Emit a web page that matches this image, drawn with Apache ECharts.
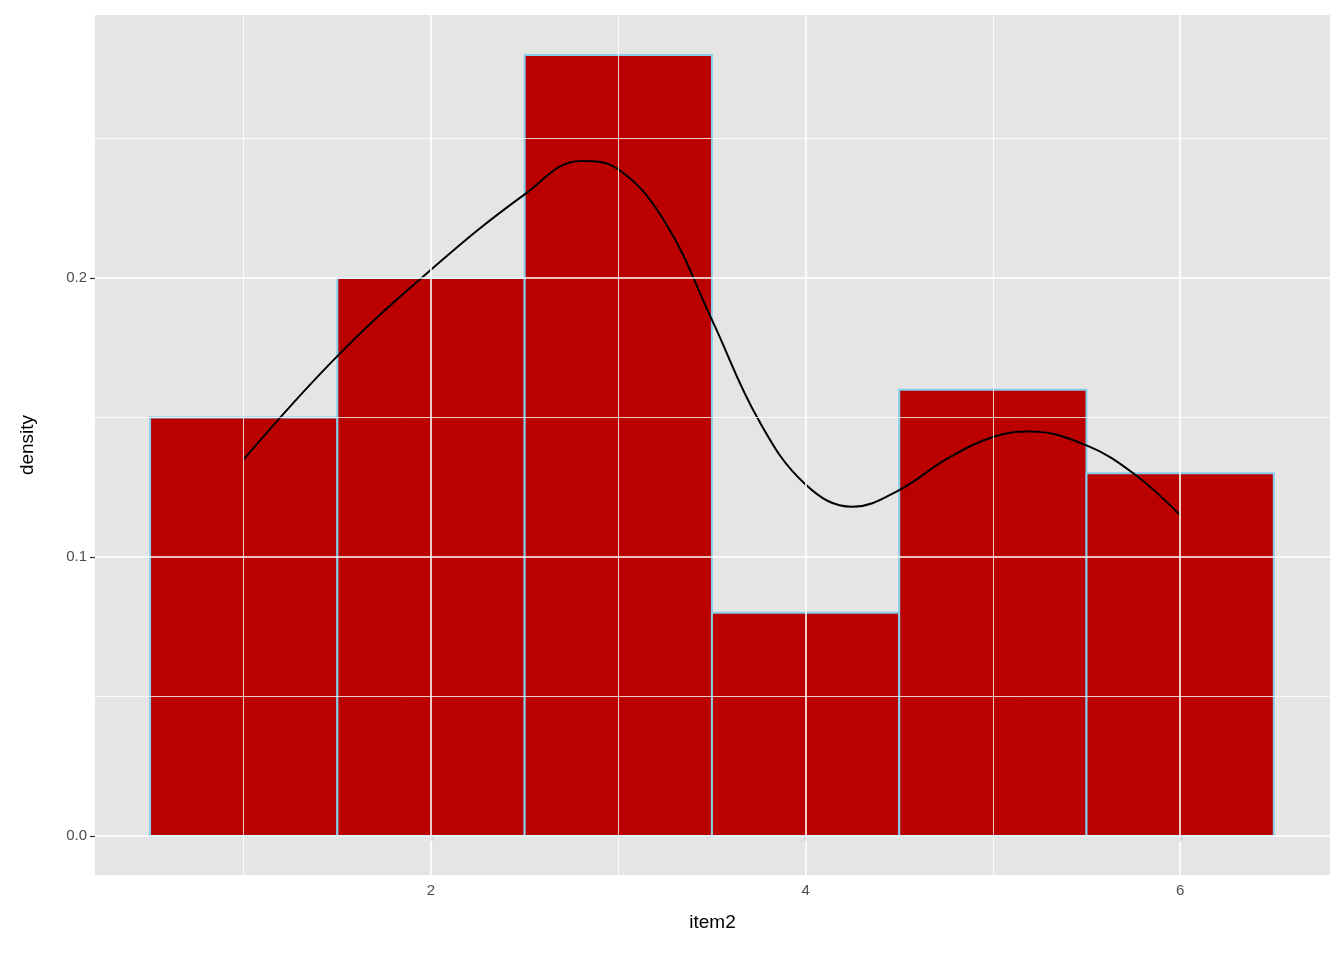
<!DOCTYPE html>
<html>
<head>
<meta charset="utf-8">
<script src="https://cdn.jsdelivr.net/npm/echarts@6/dist/echarts.min.js"></script>
<style>html,body{margin:0;padding:0;background:#fff}#chart{width:1344px;height:960px}</style>
</head>
<body>
<div id="chart"></div>
<script>
// histogram bins (center, density)
var binCenters = [1, 2, 3, 4, 5, 6];
var binDensity = [0.15, 0.20, 0.28, 0.08, 0.16, 0.13];
var binWidth = 1;
// density curve
var curveX = [1, 1.5, 2, 2.5, 2.8, 3, 3.25, 3.5, 3.75, 4, 4.25, 4.5, 4.75, 5, 5.2, 5.5, 5.75, 6];
var curveY = [0.135, 0.172, 0.203, 0.230, 0.242, 0.239, 0.220, 0.185, 0.149, 0.126, 0.118, 0.124, 0.135, 0.143, 0.145, 0.140, 0.130, 0.115];
var xMajor = [2, 4, 6], xMinor = [1, 3, 5];
var yMajor = [0, 0.1, 0.2], yMinor = [0.05, 0.15, 0.25];

var chart = echarts.init(document.getElementById('chart'));
var gridLines = [];
xMajor.forEach(function (v) { gridLines.push({ xAxis: v, lineStyle: { width: 1.6 } }); });
xMinor.forEach(function (v) { gridLines.push({ xAxis: v, lineStyle: { width: 0.8 } }); });
yMajor.forEach(function (v) { gridLines.push({ yAxis: v, lineStyle: { width: 1.6 } }); });
yMinor.forEach(function (v) { gridLines.push({ yAxis: v, lineStyle: { width: 0.8 } }); });

var axisCommon = {
    splitLine: { show: false },
    axisLine: { show: false },
    axisTick: { show: true, length: 5, lineStyle: { color: '#333', width: 1.2 } },
    axisLabel: { color: '#4D4D4D', fontSize: 15, fontFamily: 'Liberation Sans' },
    nameTextStyle: { color: '#000', fontSize: 19, fontFamily: 'Liberation Sans' },
    nameLocation: 'middle'
};

chart.setOption({
    animation: false,
    grid: { left: 95, right: 14, top: 15, bottom: 85, show: true, backgroundColor: '#E5E5E5', borderWidth: 0 },
    xAxis: Object.assign({}, axisCommon, {
        type: 'value', min: 0.206, max: 6.8, name: 'item2', nameGap: 38,
        axisTick: Object.assign({}, axisCommon.axisTick, { customValues: xMajor }),
        axisLabel: Object.assign({}, axisCommon.axisLabel, { customValues: xMajor })
    }),
    yAxis: Object.assign({}, axisCommon, {
        type: 'value', min: -0.014, max: 0.2943, name: 'density', nameGap: 58,
        axisTick: Object.assign({}, axisCommon.axisTick, { customValues: yMajor }),
        axisLabel: Object.assign({}, axisCommon.axisLabel, { customValues: yMajor, formatter: function (v) { return v.toFixed(1); } })
    }),
    series: [
        {
            type: 'line', data: [], z: 1, silent: true,
            markLine: { silent: true, symbol: 'none', label: { show: false }, lineStyle: { color: '#fff', type: 'solid' }, data: gridLines }
        },
        {
            type: 'custom', z: 2,
            data: binCenters.map(function (c, i) { return [c, binDensity[i]]; }),
            renderItem: function (params, api) {
                var p0 = api.coord([api.value(0) - binWidth / 2, api.value(1)]);
                var p1 = api.coord([api.value(0) + binWidth / 2, 0]);
                return { type: 'rect', shape: { x: p0[0], y: p0[1], width: p1[0] - p0[0], height: p1[1] - p0[1] },
                    style: { fill: '#BB0000', stroke: '#87CEEB', lineWidth: 2 } };
            }
        },
        {
            type: 'line', z: 3, smooth: 0.4, symbol: 'none',
            data: curveX.map(function (x, i) { return [x, curveY[i]]; }),
            lineStyle: { color: '#000', width: 2 }
        }
    ]
});
</script>
</body>
</html>
